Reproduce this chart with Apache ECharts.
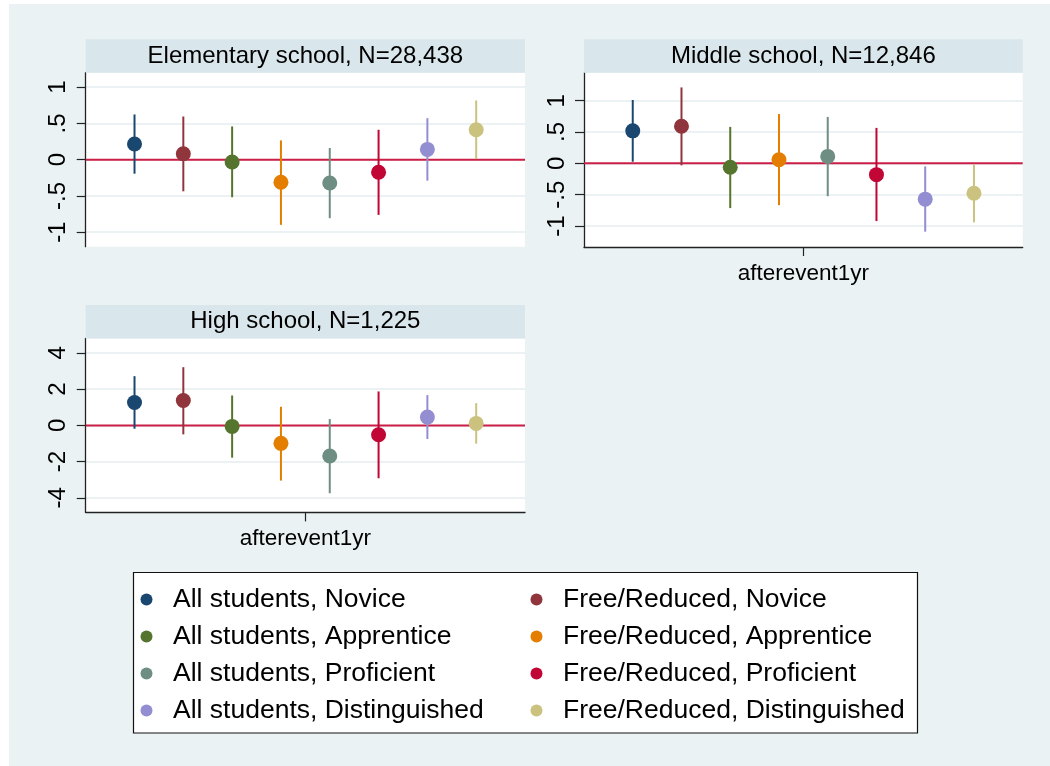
<!DOCTYPE html>
<html>
<head>
<meta charset="utf-8">
<script src="https://cdn.jsdelivr.net/npm/echarts@6/dist/echarts.min.js"></script>
<style>
  html, body { margin: 0; padding: 0; background: #ffffff; }
  #backdrop { position: absolute; left: 9px; top: 4px; width: 1041px; height: 762px; background: #eaf2f3; }
  #chart { position: absolute; left: 0; top: 0; width: 1050px; height: 766px; }
</style>
</head>
<body>
<div id="backdrop"></div>
<div id="chart"></div>
<script>
// Event-study coefficients one year after the event, with 95% confidence intervals
const groups = [
  'All students, Novice', 'Free/Reduced, Novice',
  'All students, Apprentice', 'Free/Reduced, Apprentice',
  'All students, Proficient', 'Free/Reduced, Proficient',
  'All students, Distinguished', 'Free/Reduced, Distinguished'
];
const colors = ['#1a476f', '#90353b', '#55752f', '#e37e00', '#6e8e84', '#c10534', '#938dd2', '#cac27e'];

const panelTitles = ['Elementary school, N=28,438', 'Middle school, N=12,846', 'High school, N=1,225'];

// Elementary school
const elemEst = [0.216, 0.083, -0.032, -0.312, -0.321, -0.174, 0.142, 0.413];
const elemLo  = [-0.193, -0.436, -0.518, -0.899, -0.807, -0.761, -0.289, 0.009];
const elemHi  = [0.624, 0.596, 0.459, 0.266, 0.161, 0.413, 0.573, 0.817];

// Middle school
const midEst = [0.519, 0.593, -0.063, 0.058, 0.111, -0.180, -0.571, -0.476];
const midLo  = [0.026, -0.032, -0.714, -0.667, -0.524, -0.921, -1.090, -0.942];
const midHi  = [1.011, 1.212, 0.582, 0.788, 0.741, 0.566, -0.048, -0.016];

// High school
const highEst = [1.266, 1.376, -0.055, -0.991, -1.688, -0.514, 0.459, 0.110];
const highLo  = [-0.183, -0.495, -1.780, -3.046, -3.743, -2.917, -0.752, -1.009];
const highHi  = [2.716, 3.211, 1.651, 1.028, 0.349, 1.872, 1.670, 1.229];

// Y-axis tick values per panel
const elemTicks = [-1, -0.5, 0, 0.5, 1];
const midTicks  = [-1, -0.5, 0, 0.5, 1];
const highTicks = [-4, -2, 0, 2, 4];

const xTitle = 'afterevent1yr';

const FONT = "'Liberation Sans', Arial, Helvetica, sans-serif";

// Panel geometry (pixels) and axis ranges
const panels = [
  { left: 85.7, top: 72.7, width: 439.3, height: 174, yMin: -1.2, yMax: 1.2, ticks: elemTicks,
    est: elemEst, lo: elemLo, hi: elemHi, showX: false },
  { left: 584, top: 72.7, width: 438.7, height: 174.3, yMin: -1.335, yMax: 1.447, ticks: midTicks,
    est: midEst, lo: midLo, hi: midHi, showX: true },
  { left: 85.7, top: 338.4, width: 439.3, height: 174, yMin: -4.8, yMax: 4.8, ticks: highTicks,
    est: highEst, lo: highLo, hi: highHi, showX: true }
];
const stripH = 33.5;

function fmtTick(v) {
  return String(v).replace(/^(-?)0\./, '$1.');
}

const grids = [], xAxes = [], yAxes = [], series = [], graphics = [];

panels.forEach(function (p, pi) {
  grids.push({
    left: p.left, top: p.top, width: p.width, height: p.height,
    show: true, backgroundColor: '#ffffff', borderWidth: 0,
    containLabel: false, outerBoundsMode: 'none'
  });
  xAxes.push({
    type: 'value', gridIndex: pi, min: -4.5, max: 4.5,
    show: p.showX,
    name: p.showX ? xTitle : '',
    nameLocation: 'middle', nameGap: 15,
    nameTextStyle: { fontSize: 22.5, color: '#000', fontFamily: FONT },
    axisLine: { show: true, onZero: false, lineStyle: { color: '#222', width: 1.3 } },
    axisTick: { show: true, length: 9, customValues: [0], lineStyle: { color: '#222', width: 1.2 } },
    axisLabel: { show: false },
    splitLine: { show: false }
  });
  yAxes.push({
    type: 'value', gridIndex: pi, min: p.yMin, max: p.yMax,
    axisLine: { show: true, onZero: false, lineStyle: { color: '#222', width: 1.3 } },
    axisTick: { show: true, length: 9, customValues: p.ticks, lineStyle: { color: '#222', width: 1.2 } },
    axisLabel: {
      show: true, customValues: p.ticks, rotate: 90, margin: 15,
      fontSize: 24, color: '#000', fontFamily: FONT, formatter: fmtTick
    },
    splitLine: { show: true, lineStyle: { color: '#e6eef1', width: 1.6 } }
  });

  // Zero reference line, drawn beneath the estimates
  series.push({
    type: 'line', xAxisIndex: pi, yAxisIndex: pi, silent: true, z: 1,
    symbol: 'none', data: [[-4.5, 0], [4.5, 0]],
    lineStyle: { color: '#cc1f47', width: 2 }, tooltip: { show: false }
  });

  groups.forEach(function (name, gi) {
    series.push({
      type: 'custom', name: name, xAxisIndex: pi, yAxisIndex: pi, z: 3,
      itemStyle: { color: colors[gi] },
      encode: { x: 0, y: [1, 2, 3] },
      data: [[gi - 3.5, p.est[gi], p.lo[gi], p.hi[gi]]],
      renderItem: function (params, api) {
        const x = api.value(0);
        const pE = api.coord([x, api.value(1)]);
        const pLo = api.coord([x, api.value(2)]);
        const pHi = api.coord([x, api.value(3)]);
        const c = api.visual('color');
        return {
          type: 'group',
          children: [
            { type: 'line', shape: { x1: pLo[0], y1: pLo[1], x2: pHi[0], y2: pHi[1] },
              style: { stroke: c, lineWidth: 2 } },
            { type: 'circle', shape: { cx: pE[0], cy: pE[1], r: 7.5 }, style: { fill: c } }
          ]
        };
      }
    });
  });

  // Panel title strip
  graphics.push({
    type: 'rect', z: 5,
    shape: { x: p.left, y: p.top - stripH, width: p.width, height: stripH },
    style: { fill: '#d9e6eb' }
  });
  graphics.push({
    type: 'text', z: 6,
    x: p.left + p.width / 2, y: p.top - stripH / 2,
    style: { text: panelTitles[pi], fill: '#000', font: '24px ' + FONT, align: 'center', verticalAlign: 'middle' }
  });
});

// Legend frame
graphics.push({
  type: 'rect', z: 0,
  shape: { x: 133.5, y: 572.5, width: 784, height: 160.5 },
  style: { fill: '#ffffff', stroke: '#111', lineWidth: 1.2 }
});

const legendBase = {
  orient: 'vertical', icon: 'circle', itemWidth: 43, itemHeight: 12,
  itemGap: 10, padding: 0, top: 586,
  textStyle: { fontSize: 26.5, lineHeight: 26, color: '#000', fontFamily: FONT }
};

const chart = echarts.init(document.getElementById('chart'), null, { renderer: 'canvas' });
chart.setOption({
  backgroundColor: 'transparent',
  animation: false,
  textStyle: { fontFamily: FONT },
  grid: grids,
  xAxis: xAxes,
  yAxis: yAxes,
  legend: [
    Object.assign({}, legendBase, { left: 140.5, data: [groups[0], groups[2], groups[4], groups[6]] }),
    Object.assign({}, legendBase, { left: 530.5, data: [groups[1], groups[3], groups[5], groups[7]] })
  ],
  graphic: { elements: graphics },
  series: series
});
</script>
</body>
</html>
